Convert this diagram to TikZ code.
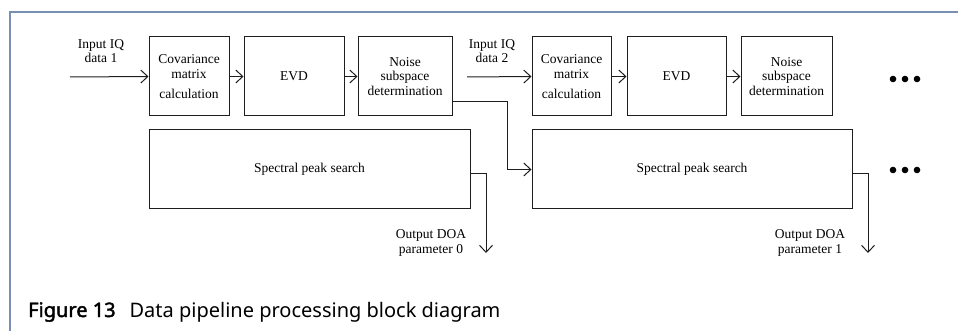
\documentclass[tikz,border=0pt]{standalone}
\usepackage{fontspec}
\setmainfont{Liberation Serif}
\newfontfamily\capfont{Noto Sans}[AutoFakeBold=2]
\usetikzlibrary{arrows.meta,positioning,calc}

\definecolor{framecol}{RGB}{122,144,178}
\definecolor{inkcol}{RGB}{30,30,30}

\tikzset{
  blk/.style={draw=inkcol, line width=1pt, minimum height=79pt, inner sep=0pt,
    align=center, font=\fontsize{13.5}{14.5}\selectfont},
  lbl/.style={align=center, inner sep=0pt, font=\fontsize{13.5}{14.5}\selectfont},
  arr/.style={draw=inkcol, line width=1pt, -{Straight Barb[length=7pt,width=13pt,line width=1pt]}},
  dot/.style={circle, fill=black, inner sep=0pt, minimum size=6.6pt},
}

\begin{document}
\begin{tikzpicture}[x=1pt,y=-1pt]
\useasboundingbox (0,0) rectangle (958,331);

% outer frame (top and left rules)
\draw[framecol, line width=2pt] (9.5,331) -- (9.5,12) -- (958,12);

% first pipeline stage
\node[blk, minimum width=80pt] (cov1) at (189,76.5) {Covariance\\matrix\\[5.5pt]calculation};
\node[blk, minimum width=100pt] (evd1) at (294,76.5) {EVD};
\node[blk, minimum width=94pt] (noi1) at (405,76.5) {Noise\\subspace\\determination};
\node[blk, minimum width=321pt] (spec1) at (309.5,169.5) {Spectral peak search};

% second pipeline stage
\node[blk, minimum width=79pt] (cov2) at (571.5,76.5) {Covariance\\matrix\\[5.5pt]calculation};
\node[blk, minimum width=99pt] (evd2) at (676.5,76.5) {EVD};
\node[blk, minimum width=91pt] (noi2) at (786.5,76.5) {Noise\\subspace\\determination};
\node[blk, minimum width=320pt] (spec2) at (692,169.5) {Spectral peak search};

% input labels and sources
\node[lbl] (lin1) at (101,51) {Input IQ\\data 1};
\node[lbl] (lin2) at (492,51) {Input IQ\\data 2};
\coordinate (src1) at (70,77);
\coordinate (src2) at (467,77);

% output labels and sinks
\node[lbl] (lout0) at (431,243) {Output DOA\\parameter 0};
\node[lbl] (lout1) at (810,243) {Output DOA\\parameter 1};
\coordinate (snk0) at (486,253);
\coordinate (snk1) at (868,253);

% connectors
\draw[arr] (src1) -- (cov1.west);
\draw[arr] (cov1) -- (evd1);
\draw[arr] (evd1) -- (noi1);
\draw[arr] (src2) -- (cov2.west);
\draw[arr] (cov2) -- (evd2);
\draw[arr] (evd2) -- (noi2);
\draw[arr] ([yshift=15pt]noi1.south east) -- ++(55,0) |- (spec2.west);
\draw[arr] ([yshift=-4.5pt]spec1.east) -| (snk0);
\draw[arr] ([yshift=-4.5pt]spec2.east) -| (snk1);

% continuation marks
\foreach \yy/\nm in {79/a,170/b}{
  \node[dot] (\nm1) at (893,\yy) {};
  \node[dot] (\nm2) at (905,\yy) {};
  \node[dot] (\nm3) at (917,\yy) {};
}

% caption
\node[anchor=base west, inner sep=0pt, font=\capfont\fontsize{20}{22}\selectfont] (cap) at (28,317)
  {\textbf{Figure 13}\hspace{14pt}Data pipeline processing block diagram};
\end{tikzpicture}
\end{document}
